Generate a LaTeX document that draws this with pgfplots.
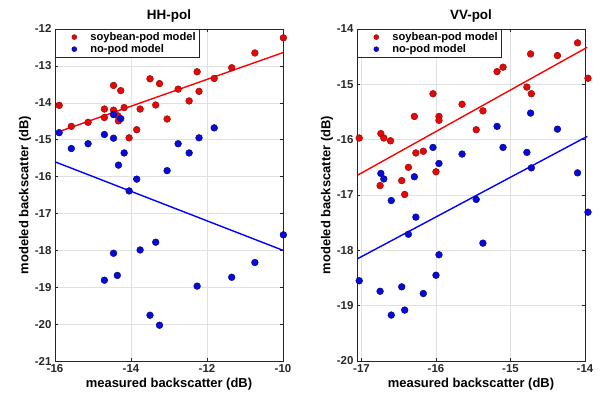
\documentclass[border=0pt]{standalone}
\usepackage{fontspec}
\setmainfont{Liberation Sans}
\usepackage{pgfplots}
\pgfplotsset{compat=1.18}
\definecolor{mred}{RGB}{225,10,10}
\definecolor{mredE}{RGB}{150,0,0}
\definecolor{mblue}{RGB}{10,10,215}
\definecolor{mblueE}{RGB}{0,0,130}
\definecolor{axgray}{RGB}{38,38,38}
\definecolor{gridgray}{RGB}{225,225,225}
\pgfplotsset{
  mystyle/.style={
    scale only axis, width=228bp, height=332bp,
    anchor=south west,
    axis line style={axgray, line width=0.6pt},
    tick style={axgray, line width=0.5pt},
    major tick length=3bp,
    tick align=inside,
    grid=major,
    major grid style={gridgray, line width=0.5pt},
    ticklabel style={font=\fontsize{11.5}{12}\selectfont\bfseries, text=axgray},
    /pgf/number format/assume math mode=true,
    label style={font=\fontsize{13}{14}\selectfont\bfseries, text=black},
    title style={font=\fontsize{13.5}{14}\selectfont\bfseries, yshift=-3bp},
    xlabel style={yshift=1bp},
    ylabel style={yshift=-3bp},
    legend style={at={(0,1)}, anchor=north west, draw=axgray, line width=0.6pt,
      font=\fontsize{11.2}{12}\selectfont\bfseries, inner xsep=2bp, inner ysep=1bp,
      row sep=-1.5pt, legend cell align=left,
      nodes={inner sep=2bp}},
    legend image code/.code={\path[draw=none,fill=none] (0bp,0bp) -- (31bp,0bp);
      \draw[##1, mark size=2.5bp] plot coordinates {(17bp,0bp)};},
    clip=false,
  },
  redm/.style={only marks, mark=*, mark size=3.4bp, mark options={fill=mred, draw=mredE, line width=0.4pt}},
  bluem/.style={only marks, mark=*, mark size=3.4bp, mark options={fill=mblue, draw=mblueE, line width=0.4pt}},
}
\begin{document}
\begin{tikzpicture}
\path[use as bounding box] (0,0) rectangle (603bp,398bp);
\begin{axis}[mystyle, at={(55bp,37bp)},
  xmin=-16, xmax=-10, ymin=-21, ymax=-12,
  xtick={-16,-14,-12,-10}, ytick={-21,-20,...,-12},
  title={HH-pol}, xlabel={measured backscatter (dB)}, ylabel={modeled backscatter (dB)}]
\addplot[redm] table {
-15.89 -14.07
-15.57 -14.64
-15.13 -14.53
-14.70 -14.40
-14.70 -14.17
-14.46 -13.53
-14.46 -14.20
-14.35 -14.35
-14.33 -14.49
-14.27 -13.67
-14.18 -14.13
-14.05 -14.95
-13.85 -14.73
-13.76 -14.17
-13.50 -13.35
-13.35 -14.06
-13.25 -13.48
-13.05 -14.44
-12.76 -13.63
-12.47 -13.95
-12.26 -13.16
-12.21 -13.69
-11.81 -13.34
-11.35 -13.05
-10.74 -12.65
-9.99 -12.24
};
\addlegendentry{soybean-pod model}
\addplot[bluem] table {
-15.89 -14.81
-15.57 -15.24
-15.13 -15.11
-14.70 -14.86
-14.46 -14.96
-14.46 -14.32
-14.27 -14.43
-14.33 -15.69
-14.18 -15.36
-13.85 -16.07
-14.05 -16.39
-13.05 -15.84
-12.76 -15.11
-12.47 -15.36
-12.21 -14.95
-11.81 -14.68
-9.99 -17.58
-10.74 -18.33
-11.35 -18.73
-12.26 -18.97
-13.35 -17.78
-13.76 -17.99
-14.46 -18.08
-14.36 -18.68
-14.70 -18.81
-13.50 -19.76
-13.25 -20.03
};
\addlegendentry{no-pod model}
\addplot[red, line width=1.4pt, forget plot] coordinates {(-16,-14.82) (-10,-12.64)};
\addplot[blue, line width=1.4pt, forget plot] coordinates {(-16,-15.6) (-10,-18.0)};
\end{axis}
\begin{axis}[mystyle, at={(357bp,37bp)},
  xmin=-17.06, xmax=-14, ymin=-20, ymax=-14,
  xtick={-17,-16,-15,-14}, ytick={-20,-19,...,-14},
  title={VV-pol}, xlabel={measured backscatter (dB)}, ylabel={modeled backscatter (dB)}]
\addplot[redm] table {
-17.03 -15.97
-16.74 -15.89
-16.70 -15.97
-16.61 -16.02
-16.75 -16.83
-16.46 -16.74
-16.37 -16.50
-16.42 -16.99
-16.29 -15.58
-16.27 -16.24
-16.17 -16.21
-16.04 -15.17
-16.00 -16.58
-15.96 -15.58
-15.96 -15.65
-15.65 -15.36
-15.46 -15.82
-15.37 -15.48
-15.18 -14.77
-15.10 -14.69
-14.78 -15.05
-14.73 -14.45
-14.72 -15.17
-14.37 -14.48
-14.10 -14.25
-13.96 -14.89
};
\addlegendentry{soybean-pod model}
\addplot[bluem] table {
-16.74 -16.61
-16.70 -16.71
-16.29 -16.67
-16.04 -16.14
-15.96 -16.43
-15.65 -16.26
-15.18 -15.76
-15.10 -16.14
-14.78 -16.23
-14.73 -15.52
-14.72 -16.51
-14.37 -15.81
-14.10 -16.60
-16.60 -17.10
-15.46 -17.08
-13.96 -17.31
-16.27 -17.40
-16.37 -17.71
-15.37 -17.87
-15.96 -18.08
-16.00 -18.45
-17.03 -18.55
-16.75 -18.74
-16.46 -18.66
-16.17 -18.78
-16.60 -19.17
-16.42 -19.08
};
\addlegendentry{no-pod model}
\addplot[red, line width=1.4pt, forget plot] coordinates {(-17.05,-16.64) (-13.97,-14.33)};
\addplot[blue, line width=1.4pt, forget plot] coordinates {(-17.05,-18.15) (-13.97,-15.94)};
\end{axis}
\end{tikzpicture}
\end{document}
